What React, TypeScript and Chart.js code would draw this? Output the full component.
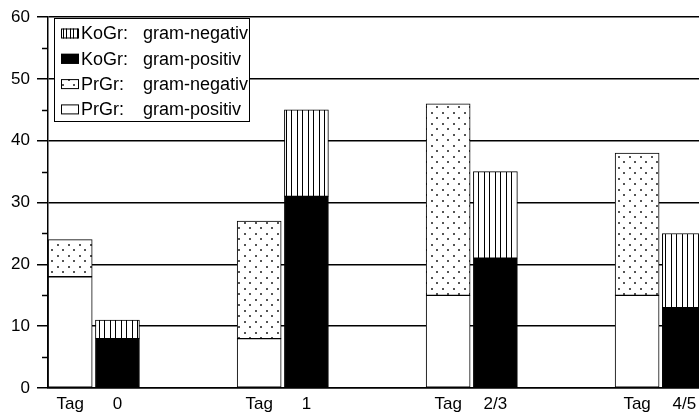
import React, { useEffect, useRef } from 'react';
import { Chart, registerables } from 'chart.js';

Chart.register(...registerables);

// ---- data ----
const groupLabels = ['0', '1', '2/3', '4/5'];
const groupPrefix = 'Tag';
const prGrPositiv = [18, 8, 15, 15];
const prGrNegativ = [6, 19, 31, 23];
const koGrPositiv = [8, 31, 21, 13];
const koGrNegativ = [3, 14, 14, 12];
const seriesNames = {
  prPos: 'PrGr:',
  koPos: 'KoGr:',
  neg: 'gram-negativ',
  pos: 'gram-positiv',
};
const yMin = 0;
const yMax = 60;
const yStep = 10;

const FONT = '"Liberation Sans", Arial, Helvetica, sans-serif';
const SLOTS_PER_GROUP = 4;

function makePattern(w: number, h: number, draw: (g: CanvasRenderingContext2D) => void) {
  const c = document.createElement('canvas');
  c.width = w;
  c.height = h;
  const g = c.getContext('2d')!;
  g.fillStyle = '#fff';
  g.fillRect(0, 0, w, h);
  draw(g);
  return g.createPattern(c, 'repeat')!;
}

export default function App() {
  const ref = useRef<HTMLCanvasElement | null>(null);

  useEffect(() => {
    const dots = makePattern(11, 11, (g) => {
      g.fillStyle = '#555';
      g.fillRect(2, 2, 2, 2);
      g.fillRect(7, 7, 2, 2);
    });
    const stripes = makePattern(11, 4, (g) => {
      g.fillStyle = '#000';
      g.fillRect(0, 0, 1, 4);
      g.fillRect(5, 0, 1, 4);
    });
    const legendStripes = makePattern(7, 4, (g) => {
      g.fillStyle = '#000';
      g.fillRect(0, 0, 1, 4);
      g.fillRect(3, 0, 1, 4);
    });

    const prX = (i: number) => i * SLOTS_PER_GROUP;
    const koX = (i: number) => i * SLOTS_PER_GROUP + 1;

    const common = {
      borderColor: '#000',
      borderWidth: 1,
      borderSkipped: false,
      stack: 's',
      barThickness: 44,
    };

    const datasets: any[] = [
      { ...common, label: `${seriesNames.prPos} ${seriesNames.pos}`, data: prGrPositiv.map((v, i) => ({ x: prX(i), y: v })), backgroundColor: '#fff' },
      { ...common, label: `${seriesNames.prPos} ${seriesNames.neg}`, data: prGrNegativ.map((v, i) => ({ x: prX(i), y: v })), backgroundColor: dots },
      { ...common, label: `${seriesNames.koPos} ${seriesNames.pos}`, data: koGrPositiv.map((v, i) => ({ x: koX(i), y: v })), backgroundColor: '#000' },
      { ...common, label: `${seriesNames.koPos} ${seriesNames.neg}`, data: koGrNegativ.map((v, i) => ({ x: koX(i), y: v })), backgroundColor: stripes },
    ];

    const tickValues: number[] = [];
    groupLabels.forEach((_, i) => {
      tickValues.push(prX(i), koX(i));
    });
    const tickText = (v: number) => {
      const g = Math.floor(v / SLOTS_PER_GROUP);
      const r = v - g * SLOTS_PER_GROUP;
      return r === 0 ? groupPrefix : groupLabels[g];
    };

    const legendItems = [
      { name: seriesNames.koPos, kind: seriesNames.neg, fill: legendStripes },
      { name: seriesNames.koPos, kind: seriesNames.pos, fill: '#000' },
      { name: seriesNames.prPos, kind: seriesNames.neg, fill: dots },
      { name: seriesNames.prPos, kind: seriesNames.pos, fill: '#fff' },
    ];

    const extras = {
      id: 'extras',
      afterDraw(chart: any) {
        const ctx: CanvasRenderingContext2D = chart.ctx;
        const ys = chart.scales.y;
        const left = chart.chartArea.left;
        ctx.save();
        // minor ticks
        ctx.strokeStyle = '#000';
        ctx.lineWidth = 1.5;
        for (let v = yMin + yStep / 2; v < yMax; v += yStep) {
          const y = Math.round(ys.getPixelForValue(v)) + 0.5;
          ctx.beginPath();
          ctx.moveTo(left - 6, y);
          ctx.lineTo(left, y);
          ctx.stroke();
        }
        // legend box
        const bx = 54.5, by = 18.5, bw = 195, bh = 103;
        ctx.fillStyle = '#fff';
        ctx.fillRect(bx, by, bw, bh);
        ctx.lineWidth = 1;
        ctx.strokeRect(bx, by, bw, bh);
        ctx.font = `18px ${FONT}`;
        ctx.textBaseline = 'middle';
        ctx.textAlign = 'left';
        legendItems.forEach((it, i) => {
          const cy = 33.5 + 25.3 * i;
          ctx.fillStyle = it.fill as any;
          ctx.fillRect(61, cy - 5, 18, 10);
          ctx.strokeStyle = '#000';
          ctx.strokeRect(61.5, cy - 4.5, 17, 9);
          ctx.fillStyle = '#000';
          ctx.fillText(it.name, 81, cy + 1);
          ctx.fillText(it.kind, 143, cy + 1);
        });
        ctx.restore();
      },
    };

    const chart = new Chart(ref.current!, {
      type: 'bar',
      data: { datasets },
      plugins: [extras],
      options: {
        animation: false,
        responsive: true,
        maintainAspectRatio: false,
        layout: { padding: { top: 14, right: 0, bottom: 0, left: 0 } },
        plugins: { legend: { display: false }, tooltip: { enabled: false } },
        scales: {
          x: {
            type: 'linear',
            stacked: true,
            min: -0.47,
            max: 13.31,
            offset: false,
            grid: { display: false, drawTicks: false },
            border: { display: true, color: '#000', width: 1.5 },
            afterBuildTicks: (s: any) => {
              s.ticks = tickValues.map((v) => ({ value: v }));
            },
            afterFit: (s: any) => {
              s.height = 25;
              s.paddingLeft = 0;
              s.paddingRight = 0;
            },
            ticks: {
              autoSkip: false,
              maxRotation: 0,
              color: '#000',
              padding: 6,
              font: { family: FONT, size: 17 },
              callback: (v: any) => tickText(Number(v)),
            },
          },
          y: {
            stacked: true,
            min: yMin,
            max: yMax,
            afterFit: (s: any) => {
              s.width = 48;
            },
            grid: { color: '#000', lineWidth: 1.5, tickLength: 11, tickColor: '#000', drawTicks: true },
            border: { display: true, color: '#000', width: 1.5 },
            ticks: {
              stepSize: yStep,
              color: '#000',
              padding: 7,
              font: { family: FONT, size: 17 },
            },
          },
        },
      },
    });
    return () => chart.destroy();
  }, []);

  return (
    <div style={{ position: 'fixed', left: 0, top: 0, width: 699, height: 413, background: '#fff' }}>
      <canvas ref={ref} />
    </div>
  );
}
